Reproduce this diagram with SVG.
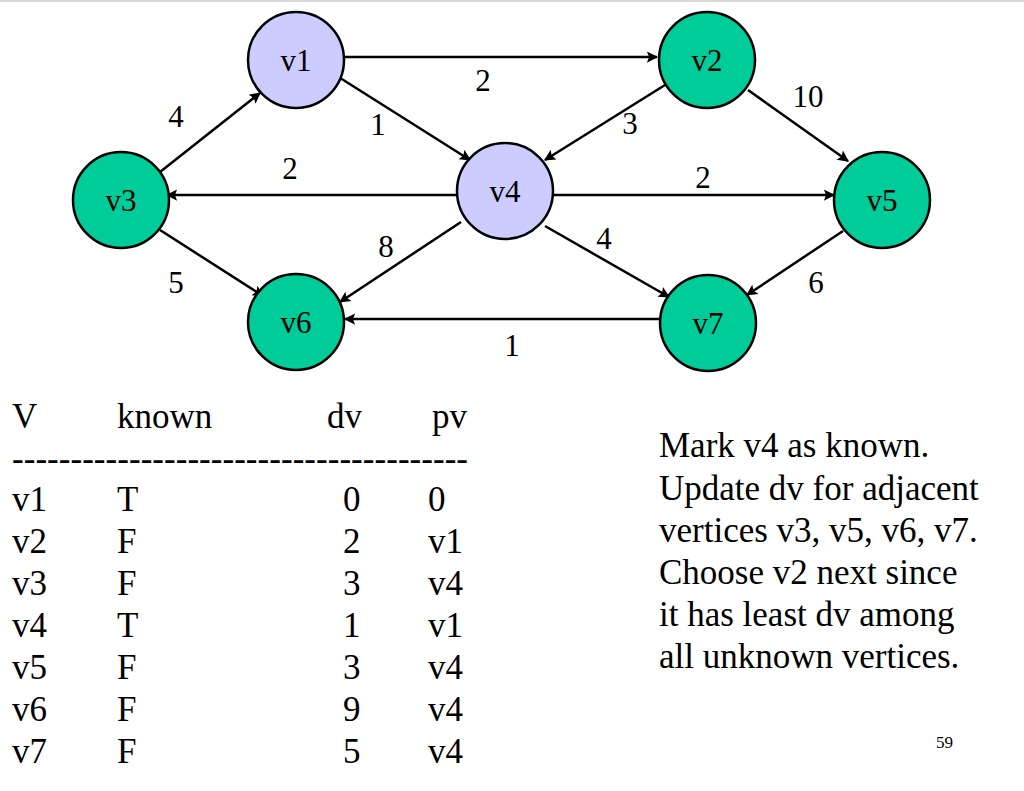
<svg xmlns="http://www.w3.org/2000/svg" width="1024" height="791" viewBox="0 0 1024 791">
<style>
.n1{fill:#CCCCFF;stroke:#000;stroke-width:2.5}
.n2{fill:#00CC99;stroke:#000;stroke-width:2.5}
.nl{font-family:"Liberation Serif","Times New Roman",serif;font-size:31px;fill:#000;text-anchor:middle}
.el{font-family:"Liberation Serif","Times New Roman",serif;font-size:31px;fill:#000;text-anchor:middle}
.t{font-family:"Liberation Serif","Times New Roman",serif;font-size:35px;fill:#000}
.e{stroke:#000;stroke-width:2.5;fill:none;marker-end:url(#ah)}
</style>
<defs>
<marker id="ah" viewBox="0 0 10 10" refX="9" refY="5" markerWidth="5" markerHeight="4.5" orient="auto" markerUnits="strokeWidth">
<path d="M0,0 L10,5 L0,10 L2,5 Z" fill="#000"/>
</marker>
</defs>
<rect x="0" y="0" width="1024" height="791" fill="#fff"/>
<rect x="0" y="0" width="1024" height="2" fill="#d8d8d8"/>
<g id="connectors">
<line class="e" x1="345" y1="57" x2="657" y2="57"/>
<line class="e" x1="337" y1="76" x2="470" y2="160"/>
<line class="e" x1="160" y1="172" x2="260" y2="93"/>
<line class="e" x1="665" y1="85" x2="545" y2="160"/>
<line class="e" x1="748" y1="90" x2="848" y2="161"/>
<line class="e" x1="458" y1="195" x2="167" y2="195"/>
<line class="e" x1="553" y1="195" x2="834" y2="195"/>
<line class="e" x1="160" y1="230" x2="263" y2="296"/>
<line class="e" x1="461" y1="222" x2="340" y2="302"/>
<line class="e" x1="545" y1="226" x2="669" y2="297"/>
<line class="e" x1="843" y1="231" x2="747" y2="295"/>
<line class="e" x1="659" y1="319" x2="345" y2="319"/>
<text class="el" x="483" y="91">2</text>
<text class="el" x="176" y="127">4</text>
<text class="el" x="378" y="135">1</text>
<text class="el" x="630" y="134">3</text>
<text class="el" x="808" y="107">10</text>
<text class="el" x="290" y="179">2</text>
<text class="el" x="703" y="188">2</text>
<text class="el" x="386" y="257">8</text>
<text class="el" x="604" y="249">4</text>
<text class="el" x="176" y="293">5</text>
<text class="el" x="816" y="293">6</text>
<text class="el" x="512" y="356">1</text>
</g>
<g id="v1"><circle class="n1" cx="296" cy="60" r="48"/><text class="nl" x="296" y="71">v1</text></g>
<g id="v2"><circle class="n2" cx="707" cy="60" r="48"/><text class="nl" x="707" y="71">v2</text></g>
<g id="v3"><circle class="n2" cx="121" cy="200" r="48"/><text class="nl" x="121" y="211">v3</text></g>
<g id="v4"><circle class="n1" cx="505" cy="191" r="48"/><text class="nl" x="505" y="202">v4</text></g>
<g id="v5"><circle class="n2" cx="882" cy="200" r="48"/><text class="nl" x="882" y="211">v5</text></g>
<g id="v6"><circle class="n2" cx="296" cy="322" r="48"/><text class="nl" x="296" y="333">v6</text></g>
<g id="v7"><circle class="n2" cx="708" cy="323" r="48"/><text class="nl" x="708" y="334">v7</text></g>
<g id="table">
<text class="t" x="12" y="428">V</text>
<text class="t" x="117" y="428">known</text>
<text class="t" x="327" y="428">dv</text>
<text class="t" x="432" y="428">pv</text>
<text class="t" x="12" y="470" textLength="456" lengthAdjust="spacing">---------------------------------------</text>
<g class="t">
<text x="12" y="511">v1</text><text x="117" y="511">T</text><text x="343" y="511">0</text><text x="428" y="511">0</text>
<text x="12" y="553">v2</text><text x="117" y="553">F</text><text x="343" y="553">2</text><text x="428" y="553">v1</text>
<text x="12" y="595">v3</text><text x="117" y="595">F</text><text x="343" y="595">3</text><text x="428" y="595">v4</text>
<text x="12" y="637">v4</text><text x="117" y="637">T</text><text x="343" y="637">1</text><text x="428" y="637">v1</text>
<text x="12" y="679">v5</text><text x="117" y="679">F</text><text x="343" y="679">3</text><text x="428" y="679">v4</text>
<text x="12" y="721">v6</text><text x="117" y="721">F</text><text x="343" y="721">9</text><text x="428" y="721">v4</text>
<text x="12" y="763">v7</text><text x="117" y="763">F</text><text x="343" y="763">5</text><text x="428" y="763">v4</text>
</g>
</g>
<g id="note" class="t">
<text x="659" y="457">Mark v4 as known.</text>
<text x="659" y="500">Update dv for adjacent</text>
<text x="659" y="542">vertices v3, v5, v6, v7.</text>
<text x="659" y="584">Choose v2 next since</text>
<text x="659" y="626">it has least dv among</text>
<text x="659" y="668">all unknown vertices.</text>
</g>
<text x="936" y="748" font-family="Liberation Serif, serif" font-size="17" fill="#000">59</text>
</svg>
